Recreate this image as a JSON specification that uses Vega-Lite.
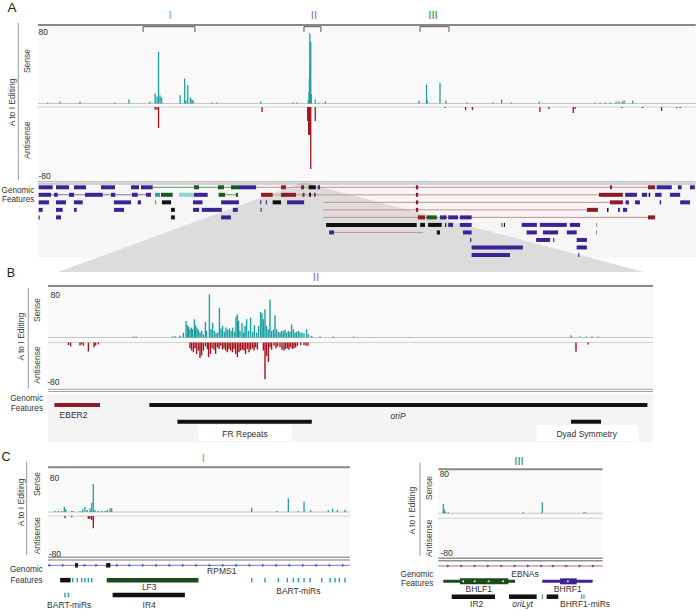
{
"$schema":"https://vega.github.io/schema/vega-lite/v6.json",
"width":696,"height":610,"autosize":{"type":"none"},"padding":0,"background":"#ffffff",
"config":{"view":{"stroke":null},"text":{"font":"Liberation Sans","fontSize":8.5,"color":"#333333"}},
"data":{"values":[{}]},
"datasets":{
"aS":[{"kb":2.56,"v":1.1},{"kb":5.8,"v":2.1},{"kb":11.08,"v":2.1},{"kb":20.3,"v":1.1},{"kb":24.0,"v":4.3},{"kb":29.5,"v":2.1},{"kb":30.9,"v":10.7},{"kb":31.4,"v":7.5},{"kb":31.8,"v":55.5},{"kb":32.2,"v":8.6},{"kb":32.6,"v":6.4},{"kb":37.5,"v":8.9},{"kb":38.7,"v":26.8},{"kb":39.0,"v":3.2},{"kb":39.5,"v":19.7},{"kb":40.2,"v":6.4},{"kb":40.6,"v":4.3},{"kb":40.9,"v":3.2},{"kb":45.9,"v":1.1},{"kb":47.2,"v":1.1},{"kb":58.75,"v":2.1},{"kb":67.2,"v":1.1},{"kb":68.3,"v":1.1},{"kb":71.3,"v":3.2},{"kb":71.5,"v":12},{"kb":71.6,"v":26.8},{"kb":71.7,"v":75.2},{"kb":71.8,"v":40},{"kb":71.95,"v":66.3},{"kb":72.1,"v":10},{"kb":73.15,"v":4.3},{"kb":74.05,"v":1.1},{"kb":75.8,"v":2.1},{"kb":100.5,"v":3.2},{"kb":102.5,"v":20.4},{"kb":102.7,"v":3.2},{"kb":106.05,"v":22.2},{"kb":107.6,"v":3.2},{"kb":113.2,"v":1.1},{"kb":119.95,"v":1.1},{"kb":122.3,"v":4.3},{"kb":124.8,"v":1.1},{"kb":132.2,"v":2.1},{"kb":146.9,"v":1.1},{"kb":148.3,"v":1.1},{"kb":149.6,"v":1.1},{"kb":150.9,"v":1.1},{"kb":152.5,"v":2.1},{"kb":153.3,"v":2.1},{"kb":154.1,"v":2.1},{"kb":154.6,"v":3.2},{"kb":156.9,"v":3.2}],
"aA":[{"kb":30.9,"v":-3},{"kb":31.4,"v":-3.3},{"kb":31.8,"v":-23.3},{"kb":59.1,"v":-5.6},{"kb":71.15,"v":-15.6},{"kb":71.4,"v":-30.8},{"kb":71.6,"v":-31.1},{"kb":71.75,"v":-31.1},{"kb":71.95,"v":-68.9},{"kb":73.15,"v":-15.6},{"kb":107.4,"v":-1.1},{"kb":112.8,"v":-3.3},{"kb":114.6,"v":-3.3},{"kb":132.4,"v":-5.6},{"kb":134.8,"v":-2.2},{"kb":141.2,"v":-6.7},{"kb":141.7,"v":-2.2},{"kb":154.0,"v":-1.1},{"kb":159.5,"v":-1.1},{"kb":164.5,"v":-4.4},{"kb":168.5,"v":-1.1},{"kb":169.4,"v":-1.1}],
"aReg":[{"id":"I","s":27.7,"e":41.42,"m":34.82},{"id":"II","s":70.17,"e":74.66,"m":72.81},{"id":"III","s":100.78,"e":108.43,"m":104.2}],
"aTrap":[{"r":0.43,"a":69.38,"b":70.7},{"r":12.26,"a":5.28,"b":159.87}],
"aLn":[{"r":1,"s":30.26,"e":57.96,"t":"gl"},{"r":1,"s":57.96,"e":160.9,"t":"rl"},{"r":2,"s":3.43,"e":29.8,"t":"pl"},{"r":2,"s":49.33,"e":52.76,"t":"gl"},{"r":2,"s":61.92,"e":148.0,"t":"rl"},{"r":3,"s":75.3,"e":150.9,"t":"rl"},{"r":4,"s":75.3,"e":144.8,"t":"rl"},{"r":5,"s":75.3,"e":160.9,"t":"rl"},{"r":7,"s":78.1,"e":101.6,"t":"rl"}],
"aF":[
{"r":1,"s":0.18,"e":3.88,"t":"p"},{"r":1,"s":4.75,"e":8.18,"t":"p"},{"r":1,"s":9.5,"e":12.66,"t":"p"},{"r":1,"s":16.62,"e":20.31,"t":"p"},{"r":1,"s":24.53,"e":26.65,"t":"p"},{"r":1,"s":27.17,"e":30.26,"t":"p"},{"r":1,"s":41.15,"e":42.47,"t":"g"},{"r":1,"s":47.49,"e":49.07,"t":"g"},{"r":1,"s":50.92,"e":53.03,"t":"g"},{"r":1,"s":53.03,"e":57.51,"t":"p"},{"r":1,"s":64.1,"e":65.4,"t":"r"},{"r":1,"s":69.4,"e":70.2,"t":"r"},{"r":1,"s":71.4,"e":73.3,"t":"k"},{"r":1,"s":73.8,"e":74.4,"t":"p"},{"r":1,"s":99.7,"e":100.3,"t":"r"},{"r":1,"s":150.9,"e":151.4,"t":"r"},{"r":1,"s":160.9,"e":162.8,"t":"r"},{"r":1,"s":163.2,"e":167.2,"t":"p"},{"r":1,"s":168.8,"e":169.8,"t":"p"},{"r":1,"s":172.0,"e":173.3,"t":"p"},
{"r":2,"s":0.18,"e":3.43,"t":"p"},{"r":2,"s":4.22,"e":5.2,"t":"p"},{"r":2,"s":8.18,"e":9.5,"t":"p"},{"r":2,"s":12.4,"e":17.07,"t":"p"},{"r":2,"s":19.26,"e":20.39,"t":"p"},{"r":2,"s":24.8,"e":26.3,"t":"p"},{"r":2,"s":28.5,"e":29.8,"t":"p"},{"r":2,"s":30.87,"e":32.19,"t":"c"},{"r":2,"s":32.45,"e":35.54,"t":"g"},{"r":2,"s":37.2,"e":41.15,"t":"l"},{"r":2,"s":41.15,"e":44.77,"t":"p"},{"r":2,"s":47.67,"e":49.33,"t":"g"},{"r":2,"s":52.2,"e":52.76,"t":"g"},{"r":2,"s":58.83,"e":61.92,"t":"r"},{"r":2,"s":64.1,"e":68.06,"t":"r"},{"r":2,"s":69.8,"e":70.3,"t":"r"},{"r":2,"s":71.5,"e":72.0,"t":"k"},{"r":2,"s":72.9,"e":73.2,"t":"k"},{"r":2,"s":99.7,"e":100.3,"t":"r"},{"r":2,"s":148.0,"e":154.3,"t":"r"},{"r":2,"s":154.9,"e":158.0,"t":"p"},{"r":2,"s":159.3,"e":160.7,"t":"p"},{"r":2,"s":161.1,"e":161.5,"t":"k"},{"r":2,"s":162.8,"e":164.5,"t":"p"},{"r":2,"s":166.7,"e":169.4,"t":"p"},
{"r":3,"s":0.18,"e":2.9,"t":"p"},{"r":3,"s":4.75,"e":7.39,"t":"p"},{"r":3,"s":9.5,"e":11.8,"t":"p"},{"r":3,"s":20.05,"e":24.53,"t":"p"},{"r":3,"s":26.3,"e":27.17,"t":"p"},{"r":3,"s":30.87,"e":31.15,"t":"c"},{"r":3,"s":32.7,"e":35.1,"t":"k"},{"r":3,"s":40.9,"e":43.4,"t":"p"},{"r":3,"s":48.3,"e":53.0,"t":"p"},{"r":3,"s":58.6,"e":58.9,"t":"p"},{"r":3,"s":60.1,"e":60.4,"t":"p"},{"r":3,"s":61.9,"e":64.1,"t":"k"},{"r":3,"s":65.7,"e":70.2,"t":"p"},{"r":3,"s":99.7,"e":100.3,"t":"r"},{"r":3,"s":150.9,"e":154.3,"t":"r"},{"r":3,"s":155.0,"e":155.9,"t":"p"},{"r":3,"s":157.5,"e":158.8,"t":"p"},{"r":3,"s":164.0,"e":164.4,"t":"p"},{"r":3,"s":169.4,"e":172.0,"t":"p"},
{"r":4,"s":0.18,"e":1.24,"t":"p"},{"r":4,"s":4.75,"e":6.5,"t":"p"},{"r":4,"s":9.5,"e":10.2,"t":"p"},{"r":4,"s":20.05,"e":22.7,"t":"p"},{"r":4,"s":35.1,"e":36.1,"t":"k"},{"r":4,"s":40.9,"e":42.5,"t":"p"},{"r":4,"s":43.2,"e":48.5,"t":"p"},{"r":4,"s":51.4,"e":52.7,"t":"p"},{"r":4,"s":58.7,"e":59.0,"t":"p"},{"r":4,"s":99.7,"e":100.3,"t":"r"},{"r":4,"s":144.8,"e":147.7,"t":"r"},{"r":4,"s":150.1,"e":150.5,"t":"k"},{"r":4,"s":153.0,"e":153.5,"t":"p"},{"r":4,"s":154.3,"e":155.4,"t":"p"},
{"r":5,"s":0.13,"e":0.45,"t":"p"},{"r":5,"s":4.75,"e":6.07,"t":"p"},{"r":5,"s":35.1,"e":36.1,"t":"k"},{"r":5,"s":48.3,"e":50.9,"t":"p"},{"r":5,"s":100.2,"e":102.1,"t":"r"},{"r":5,"s":102.5,"e":105.2,"t":"g"},{"r":5,"s":106.05,"e":107.8,"t":"p"},{"r":5,"s":108.2,"e":110.8,"t":"p"},{"r":5,"s":111.3,"e":114.4,"t":"p"},{"r":5,"s":160.9,"e":162.8,"t":"r"},
{"r":6,"s":76.0,"e":99.9,"t":"k"},{"r":6,"s":100.8,"e":102.1,"t":"k"},{"r":6,"s":102.9,"e":106.5,"t":"k"},{"r":6,"s":107.4,"e":107.7,"t":"k"},{"r":6,"s":108.2,"e":109.5,"t":"p"},{"r":6,"s":111.3,"e":114.4,"t":"p"},{"r":6,"s":122.3,"e":122.5,"t":"k"},{"r":6,"s":122.9,"e":123.2,"t":"k"},{"r":6,"s":127.6,"e":131.6,"t":"p"},{"r":6,"s":132.4,"e":139.5,"t":"p"},{"r":6,"s":140.3,"e":143.0,"t":"p"},{"r":6,"s":147.2,"e":147.5,"t":"y"},
{"r":7,"s":76.8,"e":78.1,"t":"p"},{"r":7,"s":105.2,"e":106.05,"t":"k"},{"r":7,"s":112.1,"e":114.4,"t":"p"},{"r":7,"s":128.9,"e":131.6,"t":"p"},{"r":7,"s":133.2,"e":137.2,"t":"p"},{"r":7,"s":139.5,"e":142.1,"t":"p"},{"r":7,"s":147.2,"e":147.5,"t":"y"},
{"r":8,"s":113.97,"e":114.3,"t":"p"},{"r":8,"s":131.4,"e":135.1,"t":"p"},{"r":8,"s":135.9,"e":136.2,"t":"p"},{"r":8,"s":142.1,"e":144.8,"t":"p"},
{"r":9,"s":114.4,"e":127.9,"t":"p"},{"r":9,"s":142.1,"e":144.8,"t":"p"},
{"r":10,"s":114.4,"e":124.5,"t":"p"},{"r":10,"s":142.5,"e":142.8,"t":"p"}],
"aTL":[{"t":"80","x":0,"y":76.9},{"t":"-80","x":0,"y":-77.6}],
"aTR":[{"t":"Genomic","x":-0.98,"y":-94.3},{"t":"Features","x":-0.98,"y":-104.1}],
"aTV":[{"t":"A to I Editing","x":-6.86,"y":1.07},{"t":"Sense","x":-2.9,"y":45.6},{"t":"Antisense","x":-2.9,"y":-39.2}],
"bS":[{"bp":425,"v":1.5},{"bp":440,"v":1.5},{"bp":623,"v":2},{"bp":635,"v":2},{"bp":660,"v":3},{"bp":677,"v":8},{"bp":690,"v":27.4},{"bp":697,"v":20.2},{"bp":703,"v":18},{"bp":710,"v":13.6},{"bp":717,"v":16.4},{"bp":723,"v":13.6},{"bp":732,"v":30},{"bp":738,"v":20.2},{"bp":745,"v":16.4},{"bp":752,"v":12.6},{"bp":760,"v":8.2},{"bp":768,"v":11},{"bp":777,"v":5.4},{"bp":787,"v":25.7},{"bp":793,"v":11},{"bp":807,"v":71},{"bp":815,"v":13.6},{"bp":823,"v":24.6},{"bp":832,"v":11},{"bp":840,"v":7},{"bp":848,"v":8.2},{"bp":857,"v":49},{"bp":865,"v":14.8},{"bp":873,"v":19.2},{"bp":882,"v":9.3},{"bp":890,"v":16.4},{"bp":898,"v":12.6},{"bp":907,"v":14.8},{"bp":915,"v":11},{"bp":923,"v":16.4},{"bp":932,"v":9.3},{"bp":940,"v":34.4},{"bp":947,"v":38.2},{"bp":953,"v":27.4},{"bp":960,"v":11},{"bp":970,"v":23.5},{"bp":978,"v":8.2},{"bp":985,"v":19.2},{"bp":993,"v":30},{"bp":1003,"v":11},{"bp":1013,"v":32.8},{"bp":1023,"v":9.3},{"bp":1032,"v":20.2},{"bp":1043,"v":8.2},{"bp":1053,"v":19.2},{"bp":1063,"v":42},{"bp":1070,"v":39.9},{"bp":1077,"v":30},{"bp":1085,"v":46.4},{"bp":1093,"v":19.2},{"bp":1102,"v":13.6},{"bp":1110,"v":62.8},{"bp":1118,"v":11},{"bp":1127,"v":12.6},{"bp":1135,"v":36.6},{"bp":1143,"v":13.6},{"bp":1152,"v":9.3},{"bp":1160,"v":8.2},{"bp":1168,"v":11},{"bp":1177,"v":11},{"bp":1185,"v":12.6},{"bp":1193,"v":8.2},{"bp":1202,"v":11},{"bp":1210,"v":9.3},{"bp":1218,"v":21.8},{"bp":1227,"v":13.6},{"bp":1235,"v":8.2},{"bp":1243,"v":9.3},{"bp":1252,"v":11},{"bp":1260,"v":8.2},{"bp":1270,"v":8.2},{"bp":1280,"v":7},{"bp":1293,"v":13.6},{"bp":1302,"v":5.4},{"bp":1318,"v":2.8},{"bp":1360,"v":1.5},{"bp":1427,"v":1.5},{"bp":1528,"v":1.5},{"bp":1625,"v":1},{"bp":1810,"v":1},{"bp":2615,"v":3.3},{"bp":2660,"v":1.5},{"bp":2690,"v":1.5},{"bp":2720,"v":1.5},{"bp":2750,"v":1.5}],
"bA":[{"bp":102,"v":-4.4},{"bp":113,"v":-6.6},{"bp":160,"v":-5},{"bp":168,"v":-3.3},{"bp":177,"v":-5.4},{"bp":202,"v":-15.3},{"bp":230,"v":-8.2},{"bp":238,"v":-5},{"bp":252,"v":-3.3},{"bp":710,"v":-9.8},{"bp":718,"v":-13.6},{"bp":727,"v":-16.4},{"bp":735,"v":-9.8},{"bp":743,"v":-19.2},{"bp":752,"v":-13.6},{"bp":760,"v":-26.2},{"bp":768,"v":-21.8},{"bp":777,"v":-13.6},{"bp":787,"v":-6.6},{"bp":797,"v":-11},{"bp":803,"v":-24.6},{"bp":812,"v":-19.2},{"bp":820,"v":-9.8},{"bp":830,"v":-12},{"bp":838,"v":-19.2},{"bp":847,"v":-8.2},{"bp":855,"v":-11},{"bp":863,"v":-5.4},{"bp":872,"v":-12},{"bp":880,"v":-9.8},{"bp":888,"v":-13.6},{"bp":897,"v":-16.4},{"bp":905,"v":-11},{"bp":913,"v":-13.6},{"bp":922,"v":-16.4},{"bp":930,"v":-11},{"bp":938,"v":-19.2},{"bp":947,"v":-24.6},{"bp":955,"v":-16.4},{"bp":963,"v":-13.6},{"bp":972,"v":-12},{"bp":980,"v":-13.6},{"bp":988,"v":-19.2},{"bp":997,"v":-11},{"bp":1005,"v":-16.4},{"bp":1013,"v":-12},{"bp":1022,"v":-9.8},{"bp":1030,"v":-13.6},{"bp":1038,"v":-8.2},{"bp":1047,"v":-12},{"bp":1077,"v":-13.6},{"bp":1085,"v":-61.8},{"bp":1093,"v":-23},{"bp":1102,"v":-32.8},{"bp":1110,"v":-8.2},{"bp":1118,"v":-12},{"bp":1130,"v":-5.4},{"bp":1140,"v":-9.8},{"bp":1148,"v":-6.6},{"bp":1160,"v":-8.2},{"bp":1170,"v":-12},{"bp":1180,"v":-13.6},{"bp":1188,"v":-11},{"bp":1197,"v":-9.8},{"bp":1205,"v":-12},{"bp":1213,"v":-8.2},{"bp":1222,"v":-11},{"bp":1230,"v":-9.8},{"bp":1238,"v":-8.2},{"bp":1247,"v":-5.4},{"bp":1263,"v":-4.4},{"bp":1280,"v":-4.4},{"bp":1290,"v":-5.4},{"bp":1300,"v":-5.4},{"bp":2640,"v":-15.4},{"bp":2700,"v":-3.3}],
"bF":[{"r":1,"s":32,"e":260,"t":"r"},{"r":1,"s":507,"e":2997,"t":"k"},{"r":2,"s":647,"e":1319,"t":"k"},{"r":2,"s":2615,"e":2765,"t":"k"}],
"bBox":[{"s":751.5,"e":1220},{"s":2443.5,"e":2951.5}],
"bFL":[{"t":"EBER2","x":127.5,"y":1.599},{"t":"FR Repeats","x":985,"y":2.737},{"t":"Dyad Symmetry","x":2693.5,"y":2.737}],
"bTL":[{"t":"80","x":10,"y":70.1},{"t":"-80","x":-6.7,"y":-72.9}],
"bTR":[{"t":"Genomic","x":-25,"y":-101.9},{"t":"Features","x":-25,"y":-118.3}],
"bTV":[{"t":"A to I Editing","x":-136.5,"y":1.3},{"t":"Sense","x":-56.5,"y":45.4},{"t":"Antisense","x":-56.5,"y":-45.4}],
"cS":[{"kb":30.45,"v":1.9},{"kb":30.565,"v":1.9},{"kb":30.685,"v":1.9},{"kb":30.778,"v":10.2},{"kb":30.827,"v":5.1},{"kb":31.04,"v":1.9},{"kb":31.097,"v":1.9},{"kb":31.334,"v":1.9},{"kb":31.43,"v":5.1},{"kb":31.511,"v":10.2},{"kb":31.593,"v":3.8},{"kb":31.688,"v":7},{"kb":31.749,"v":17.8},{"kb":31.805,"v":53.3},{"kb":31.865,"v":3.8},{"kb":31.982,"v":1.9},{"kb":32.103,"v":1.9},{"kb":32.22,"v":1.9},{"kb":32.301,"v":3.8},{"kb":32.397,"v":7},{"kb":32.457,"v":7},{"kb":37.418,"v":8.3},{"kb":38.304,"v":1.9},{"kb":38.715,"v":26},{"kb":39.07,"v":1.9},{"kb":39.272,"v":19.7},{"kb":39.509,"v":3.2},{"kb":40.133,"v":3.2},{"kb":40.289,"v":6.3},{"kb":40.452,"v":3.8},{"kb":40.724,"v":4.4}],
"cA":[{"kb":30.802,"v":-4.7},{"kb":31.04,"v":-2.7},{"kb":31.628,"v":-6},{"kb":31.688,"v":-6},{"kb":31.749,"v":-8},{"kb":31.805,"v":-24.7}],
"cLn":[{"r":1,"s":30.2,"e":40.9,"t":"bl"}],
"cF":[{"r":1,"s":31.16,"e":31.26,"t":"k"},{"r":1,"s":32.26,"e":32.41,"t":"k"},{"r":2,"s":30.63,"e":31.0,"t":"k"},{"r":2,"s":31.05,"e":31.1,"t":"c"},{"r":2,"s":31.213,"e":31.263,"t":"c"},{"r":2,"s":31.369,"e":31.419,"t":"c"},{"r":2,"s":31.486,"e":31.536,"t":"c"},{"r":2,"s":31.603,"e":31.653,"t":"c"},{"r":2,"s":31.724,"e":31.774,"t":"c"},{"r":2,"s":32.28,"e":35.53,"t":"g"},{"r":2,"s":37.393,"e":37.443,"t":"c"},{"r":2,"s":37.864,"e":37.914,"t":"c"},{"r":2,"s":38.336,"e":38.386,"t":"c"},{"r":2,"s":38.655,"e":38.705,"t":"c"},{"r":2,"s":38.868,"e":38.918,"t":"c"},{"r":2,"s":39.045,"e":39.095,"t":"c"},{"r":2,"s":39.247,"e":39.297,"t":"c"},{"r":2,"s":39.459,"e":39.509,"t":"c"},{"r":2,"s":39.874,"e":39.924,"t":"c"},{"r":2,"s":40.168,"e":40.218,"t":"c"},{"r":2,"s":40.345,"e":40.395,"t":"c"},{"r":2,"s":40.498,"e":40.548,"t":"c"},{"r":2,"s":40.699,"e":40.749,"t":"c"},{"r":3,"s":30.775,"e":30.825,"t":"c"},{"r":3,"s":30.895,"e":30.945,"t":"c"},{"r":3,"s":32.49,"e":35.05,"t":"k"}],
"cAr":[{"kb":30.271},{"kb":30.742},{"kb":31.511},{"kb":31.926},{"kb":32.656},{"kb":33.106},{"kb":33.577},{"kb":34.052},{"kb":34.523},{"kb":34.995},{"kb":35.469},{"kb":35.941},{"kb":36.412},{"kb":36.887},{"kb":37.358},{"kb":37.83},{"kb":38.304},{"kb":38.775},{"kb":39.247},{"kb":39.722},{"kb":40.193},{"kb":40.664}],
"cFL":[{"t":"RPMS1","x":36.355,"y":1.4},{"t":"LF3","x":33.786,"y":2.428},{"t":"BART-miRs","x":39.07,"y":2.717},{"t":"BART-miRs","x":30.951,"y":3.66},{"t":"IR4","x":33.786,"y":3.66}],
"cTL":[{"t":"80","x":30.246,"y":64.2},{"t":"-80","x":30.21,"y":-80.4}],
"cTR":[{"t":"Genomic","x":30.012,"y":-111.4},{"t":"Features","x":30.012,"y":-130.5}],
"cTV":[{"t":"A to I Editing","x":29.233,"y":18.5},{"t":"Sense","x":29.81,"y":53.3},{"t":"Antisense","x":29.81,"y":-45.1}],
"dS":[{"kb":102.499,"v":17.4},{"kb":102.535,"v":7.5},{"kb":102.585,"v":1.9},{"kb":102.678,"v":1.9},{"kb":105.364,"v":1.9},{"kb":106.045,"v":20},{"kb":107.538,"v":1.9},{"kb":107.599,"v":1.9}],
"dLn":[{"r":1,"s":102.32,"e":108.21,"t":"el"}],
"dG":[{"r":2,"s":102.499,"e":105.067,"t":"g","part":"utr"},{"r":2,"s":106.045,"e":107.85,"t":"p","part":"utr"},{"r":2,"s":103.097,"e":104.827,"t":"g","part":"cds"},{"r":2,"s":106.679,"e":107.277,"t":"p","part":"cds"}],
"dF":[{"r":3,"s":102.8,"e":104.351,"t":"k"},{"r":3,"s":104.852,"e":105.844,"t":"k"},{"r":3,"s":106.025,"e":106.065,"t":"c"},{"r":3,"s":106.203,"e":106.618,"t":"k"},{"r":3,"s":107.436,"e":107.476,"t":"c"},{"r":3,"s":107.518,"e":107.558,"t":"c"}],
"dAr":[{"kb":102.678},{"kb":103.158},{"kb":103.634},{"kb":104.111},{"kb":104.591},{"kb":105.067},{"kb":105.543},{"kb":106.023},{"kb":106.439},{"kb":106.919},{"kb":107.395},{"kb":107.872}],
"dWa":[{"kb":103.2,"strand":"-"},{"kb":103.61,"strand":"-"},{"kb":104.111,"strand":"-"},{"kb":104.627,"strand":"-"},{"kb":106.977,"strand":"+"}],
"dFL":[{"t":"EBNAs","x":105.426,"y":1.489},{"t":"BHLF1","x":103.771,"y":2.511},{"t":"BHRF1","x":106.96,"y":2.511},{"t":"IR2","x":103.696,"y":3.508},{"t":"BHRF1-miRs","x":107.576,"y":3.489}],
"dTL":[{"t":"80","x":102.35,"y":72.9},{"t":"-80","x":102.381,"y":-73.3}],
"dTR":[{"t":"Genomic","x":102.141,"y":-114.7},{"t":"Features","x":102.141,"y":-132.5}],
"dTV":[{"t":"A to I Editing","x":101.367,"y":4.9},{"t":"Sense","x":101.976,"y":47.3},{"t":"Antisense","x":101.976,"y":-46.7}]
},
"resolve":{"scale":{"x":"independent","y":"independent","color":"independent","strokeWidth":"independent","shape":"independent"}},
"layer":[
{"mark":{"type":"rect","fill":"#f9f9f9"},"encoding":{"x":{"datum":0,"type":"quantitative","scale":{"domain":[0,172],"range":[38,690],"nice":false,"zero":false},"axis":null},"x2":{"datum":173.5},"y":{"datum":82.1,"type":"quantitative","scale":{"domain":[0,80],"range":[103.5,29],"nice":false,"zero":false},"axis":null},"y2":{"datum":-82.1}}},
{"mark":{"type":"rect","fill":"#f6f6f6"},"encoding":{"x":{"datum":0,"type":"quantitative","scale":{"domain":[0,172],"range":[38,690],"nice":false,"zero":false},"axis":null},"x2":{"datum":173.5},"y":{"datum":0.694,"type":"quantitative","scale":{"domain":[1,10],"range":[187.3,255],"nice":false,"zero":false},"axis":null},"y2":{"datum":10.38}}},
{"data":{"name":"aTrap"},"mark":{"type":"area","orient":"horizontal","color":"#dcdcdc"},"encoding":{"y":{"field":"r","type":"quantitative","scale":{"domain":[1,10],"range":[187.3,255],"nice":false,"zero":false},"axis":null},"x":{"field":"a","type":"quantitative","scale":{"domain":[0,172],"range":[38,690],"nice":false,"zero":false},"axis":null},"x2":{"field":"b"}}},
{"mark":{"type":"rule","color":"#888888","strokeWidth":2},"encoding":{"x":{"datum":0,"type":"quantitative","scale":{"domain":[0,172],"range":[38,690],"nice":false,"zero":false},"axis":null},"x2":{"datum":173.5},"y":{"datum":84.3,"type":"quantitative","scale":{"domain":[0,80],"range":[103.5,29],"nice":false,"zero":false},"axis":null}}},
{"mark":{"type":"rule","color":"#c4c4c4","strokeWidth":1},"encoding":{"x":{"datum":0,"type":"quantitative","scale":{"domain":[0,172],"range":[38,690],"nice":false,"zero":false},"axis":null},"x2":{"datum":173.5},"y":{"datum":0,"type":"quantitative","scale":{"domain":[0,80],"range":[103.5,29],"nice":false,"zero":false},"axis":null}}},
{"mark":{"type":"rule","color":"#d2d2d2","strokeWidth":1},"encoding":{"x":{"datum":0,"type":"quantitative","scale":{"domain":[0,172],"range":[38,690],"nice":false,"zero":false},"axis":null},"x2":{"datum":173.5},"y":{"datum":-3.76,"type":"quantitative","scale":{"domain":[0,80],"range":[103.5,29],"nice":false,"zero":false},"axis":null}}},
{"mark":{"type":"rule","color":"#a0a0a0","strokeWidth":1},"encoding":{"x":{"datum":0,"type":"quantitative","scale":{"domain":[0,172],"range":[38,690],"nice":false,"zero":false},"axis":null},"x2":{"datum":173.5},"y":{"datum":-84.1,"type":"quantitative","scale":{"domain":[0,80],"range":[103.5,29],"nice":false,"zero":false},"axis":null}}},
{"mark":{"type":"rule","color":"#a0a0a0","strokeWidth":1},"encoding":{"x":{"datum":0,"type":"quantitative","scale":{"domain":[0,172],"range":[38,690],"nice":false,"zero":false},"axis":null},"x2":{"datum":173.5},"y":{"datum":-86.4,"type":"quantitative","scale":{"domain":[0,80],"range":[103.5,29],"nice":false,"zero":false},"axis":null}}},
{"mark":{"type":"rule","color":"#999999","strokeWidth":1},"encoding":{"x":{"datum":-5.2,"type":"quantitative","scale":{"domain":[0,172],"range":[38,690],"nice":false,"zero":false},"axis":null},"y":{"datum":86.4,"type":"quantitative","scale":{"domain":[0,80],"range":[103.5,29],"nice":false,"zero":false},"axis":null},"y2":{"datum":-82.1}}},
{"data":{"name":"aS"},"mark":{"type":"rule","color":"#1fa0a0","strokeWidth":1.3},"encoding":{"x":{"field":"kb","type":"quantitative","scale":{"domain":[0,172],"range":[38,690],"nice":false,"zero":false},"axis":null},"y":{"field":"v","type":"quantitative","scale":{"domain":[0,80],"range":[103.5,29],"nice":false,"zero":false},"axis":null},"y2":{"datum":0}}},
{"data":{"name":"aA"},"mark":{"type":"rule","color":"#a3141b","strokeWidth":1.3},"encoding":{"x":{"field":"kb","type":"quantitative","scale":{"domain":[0,172],"range":[38,690],"nice":false,"zero":false},"axis":null},"y":{"field":"v","type":"quantitative","scale":{"domain":[-80,0],"range":[179,107],"nice":false,"zero":false},"axis":null},"y2":{"datum":0}}},
{"data":{"name":"aReg"},"mark":{"type":"rule","color":"#555555","strokeWidth":1},"encoding":{"x":{"field":"s","type":"quantitative","scale":{"domain":[0,172],"range":[38,690],"nice":false,"zero":false},"axis":null},"x2":{"field":"e"},"y":{"datum":82.5,"type":"quantitative","scale":{"domain":[0,80],"range":[103.5,29],"nice":false,"zero":false},"axis":null}}},
{"data":{"name":"aReg"},"mark":{"type":"rule","color":"#555555","strokeWidth":1},"encoding":{"x":{"field":"s","type":"quantitative","scale":{"domain":[0,172],"range":[38,690],"nice":false,"zero":false},"axis":null},"y":{"datum":82.5,"type":"quantitative","scale":{"domain":[0,80],"range":[103.5,29],"nice":false,"zero":false},"axis":null},"y2":{"datum":76.8}}},
{"data":{"name":"aReg"},"mark":{"type":"rule","color":"#555555","strokeWidth":1},"encoding":{"x":{"field":"e","type":"quantitative","scale":{"domain":[0,172],"range":[38,690],"nice":false,"zero":false},"axis":null},"y":{"datum":82.5,"type":"quantitative","scale":{"domain":[0,80],"range":[103.5,29],"nice":false,"zero":false},"axis":null},"y2":{"datum":76.8}}},
{"data":{"name":"aReg"},"mark":{"type":"text","fontSize":11.5},"encoding":{"x":{"field":"m","type":"quantitative","scale":{"domain":[0,172],"range":[38,690],"nice":false,"zero":false},"axis":null},"y":{"datum":94,"type":"quantitative","scale":{"domain":[0,80],"range":[103.5,29],"nice":false,"zero":false},"axis":null},"text":{"field":"id"},"color":{"field":"id","type":"nominal","scale":{"domain":["I","II","III"],"range":["#6cbf6a","#7a78d6","#2f8f3a"]},"legend":null}}},
{"data":{"name":"aLn"},"mark":{"type":"rule","strokeWidth":1},"encoding":{"x":{"field":"s","type":"quantitative","scale":{"domain":[0,172],"range":[38,690],"nice":false,"zero":false},"axis":null},"x2":{"field":"e"},"y":{"field":"r","type":"quantitative","scale":{"domain":[1,10],"range":[187.3,255],"nice":false,"zero":false},"axis":null},"color":{"field":"t","type":"nominal","scale":{"domain":["p","g","r","k","c","l","y","gl","rl","pl","bl","el"],"range":["#3c2394","#1d5a20","#8e1c26","#111111","#27a2a2","#93d3d3","#999999","#5a9a5a","#cf8d8d","#7b6cb5","#6f7fb8","#d49a9a"]},"legend":null}}},
{"data":{"name":"aF"},"mark":{"type":"rule","strokeWidth":4},"encoding":{"x":{"field":"s","type":"quantitative","scale":{"domain":[0,172],"range":[38,690],"nice":false,"zero":false},"axis":null},"x2":{"field":"e"},"y":{"field":"r","type":"quantitative","scale":{"domain":[1,10],"range":[187.3,255],"nice":false,"zero":false},"axis":null},"color":{"field":"t","type":"nominal","scale":{"domain":["p","g","r","k","c","l","y","gl","rl","pl","bl","el"],"range":["#3c2394","#1d5a20","#8e1c26","#111111","#27a2a2","#93d3d3","#999999","#5a9a5a","#cf8d8d","#7b6cb5","#6f7fb8","#d49a9a"]},"legend":null}}},
{"mark":{"type":"text","text":"A","fontSize":13.5,"color":"#222222"},"encoding":{"x":{"datum":-6.86,"type":"quantitative","scale":{"domain":[0,172],"range":[38,690],"nice":false,"zero":false},"axis":null},"y":{"datum":102.3,"type":"quantitative","scale":{"domain":[0,80],"range":[103.5,29],"nice":false,"zero":false},"axis":null}}},
{"data":{"name":"aTL"},"mark":{"type":"text","align":"left","dx":0.5},"encoding":{"x":{"field":"x","type":"quantitative","scale":{"domain":[0,172],"range":[38,690],"nice":false,"zero":false},"axis":null},"y":{"field":"y","type":"quantitative","scale":{"domain":[0,80],"range":[103.5,29],"nice":false,"zero":false},"axis":null},"text":{"field":"t"}}},
{"data":{"name":"aTR"},"mark":{"type":"text","align":"right","fontSize":8.2},"encoding":{"x":{"field":"x","type":"quantitative","scale":{"domain":[0,172],"range":[38,690],"nice":false,"zero":false},"axis":null},"y":{"field":"y","type":"quantitative","scale":{"domain":[0,80],"range":[103.5,29],"nice":false,"zero":false},"axis":null},"text":{"field":"t"}}},
{"data":{"name":"aTV"},"mark":{"type":"text","angle":270,"fontSize":8.5,"color":"#444444"},"encoding":{"x":{"field":"x","type":"quantitative","scale":{"domain":[0,172],"range":[38,690],"nice":false,"zero":false},"axis":null},"y":{"field":"y","type":"quantitative","scale":{"domain":[0,80],"range":[103.5,29],"nice":false,"zero":false},"axis":null},"text":{"field":"t"}}},

{"mark":{"type":"rect","fill":"#f9f9f9"},"encoding":{"x":{"datum":0,"type":"quantitative","scale":{"domain":[0,3025],"range":[48,653],"nice":false,"zero":false},"axis":null},"x2":{"datum":3025},"y":{"datum":81.65,"type":"quantitative","scale":{"domain":[0,80],"range":[337.5,289],"nice":false,"zero":false},"axis":null},"y2":{"datum":-84.1}}},
{"mark":{"type":"rect","fill":"#f4f4f4"},"encoding":{"x":{"datum":0,"type":"quantitative","scale":{"domain":[0,3025],"range":[48,653],"nice":false,"zero":false},"axis":null},"x2":{"datum":3025},"y":{"datum":0.371,"type":"quantitative","scale":{"domain":[1,2],"range":[405,421.7],"nice":false,"zero":false},"axis":null},"y2":{"datum":3.216}}},
{"data":{"name":"bBox"},"mark":{"type":"rect","fill":"#ffffff"},"encoding":{"x":{"field":"s","type":"quantitative","scale":{"domain":[0,3025],"range":[48,653],"nice":false,"zero":false},"axis":null},"x2":{"field":"e"},"y":{"datum":2.198,"type":"quantitative","scale":{"domain":[1,2],"range":[405,421.7],"nice":false,"zero":false},"axis":null},"y2":{"datum":3.156}}},
{"mark":{"type":"rule","color":"#888888","strokeWidth":2},"encoding":{"x":{"datum":0,"type":"quantitative","scale":{"domain":[0,3025],"range":[48,653],"nice":false,"zero":false},"axis":null},"x2":{"datum":3025},"y":{"datum":84.95,"type":"quantitative","scale":{"domain":[0,80],"range":[337.5,289],"nice":false,"zero":false},"axis":null}}},
{"mark":{"type":"rule","color":"#c4c4c4","strokeWidth":1},"encoding":{"x":{"datum":0,"type":"quantitative","scale":{"domain":[0,3025],"range":[48,653],"nice":false,"zero":false},"axis":null},"x2":{"datum":3025},"y":{"datum":0,"type":"quantitative","scale":{"domain":[0,80],"range":[337.5,289],"nice":false,"zero":false},"axis":null}}},
{"mark":{"type":"rule","color":"#d2d2d2","strokeWidth":1},"encoding":{"x":{"datum":0,"type":"quantitative","scale":{"domain":[0,3025],"range":[48,653],"nice":false,"zero":false},"axis":null},"x2":{"datum":3025},"y":{"datum":-8.25,"type":"quantitative","scale":{"domain":[0,80],"range":[337.5,289],"nice":false,"zero":false},"axis":null}}},
{"mark":{"type":"rule","color":"#a0a0a0","strokeWidth":1},"encoding":{"x":{"datum":0,"type":"quantitative","scale":{"domain":[0,3025],"range":[48,653],"nice":false,"zero":false},"axis":null},"x2":{"datum":3025},"y":{"datum":-85.4,"type":"quantitative","scale":{"domain":[0,80],"range":[337.5,289],"nice":false,"zero":false},"axis":null}}},
{"mark":{"type":"rule","color":"#a0a0a0","strokeWidth":1},"encoding":{"x":{"datum":0,"type":"quantitative","scale":{"domain":[0,3025],"range":[48,653],"nice":false,"zero":false},"axis":null},"x2":{"datum":3025},"y":{"datum":-89.07,"type":"quantitative","scale":{"domain":[0,80],"range":[337.5,289],"nice":false,"zero":false},"axis":null}}},
{"mark":{"type":"rule","color":"#999999","strokeWidth":1},"encoding":{"x":{"datum":-98.5,"type":"quantitative","scale":{"domain":[0,3025],"range":[48,653],"nice":false,"zero":false},"axis":null},"y":{"datum":81.65,"type":"quantitative","scale":{"domain":[0,80],"range":[337.5,289],"nice":false,"zero":false},"axis":null},"y2":{"datum":-84.1}}},
{"data":{"name":"bS"},"mark":{"type":"rule","color":"#1fa0a0","strokeWidth":1.4},"encoding":{"x":{"field":"bp","type":"quantitative","scale":{"domain":[0,3025],"range":[48,653],"nice":false,"zero":false},"axis":null},"y":{"field":"v","type":"quantitative","scale":{"domain":[0,80],"range":[337.5,289],"nice":false,"zero":false},"axis":null},"y2":{"datum":0}}},
{"data":{"name":"bA"},"mark":{"type":"rule","color":"#a3141b","strokeWidth":1.4},"encoding":{"x":{"field":"bp","type":"quantitative","scale":{"domain":[0,3025],"range":[48,653],"nice":false,"zero":false},"axis":null},"y":{"field":"v","type":"quantitative","scale":{"domain":[-80,0],"range":[390,342.5],"nice":false,"zero":false},"axis":null},"y2":{"datum":0}}},
{"data":{"name":"bF"},"mark":{"type":"rule","strokeWidth":4},"encoding":{"x":{"field":"s","type":"quantitative","scale":{"domain":[0,3025],"range":[48,653],"nice":false,"zero":false},"axis":null},"x2":{"field":"e"},"y":{"field":"r","type":"quantitative","scale":{"domain":[1,2],"range":[405,421.7],"nice":false,"zero":false},"axis":null},"color":{"field":"t","type":"nominal","scale":{"domain":["p","g","r","k","c","l","y","gl","rl","pl","bl","el"],"range":["#3c2394","#1d5a20","#8e1c26","#111111","#27a2a2","#93d3d3","#999999","#5a9a5a","#cf8d8d","#7b6cb5","#6f7fb8","#d49a9a"]},"legend":null}}},
{"data":{"name":"bFL"},"mark":{"type":"text"},"encoding":{"x":{"field":"x","type":"quantitative","scale":{"domain":[0,3025],"range":[48,653],"nice":false,"zero":false},"axis":null},"y":{"field":"y","type":"quantitative","scale":{"domain":[1,2],"range":[405,421.7],"nice":false,"zero":false},"axis":null},"text":{"field":"t"}}},
{"mark":{"type":"text","text":"oriP","fontStyle":"italic"},"encoding":{"x":{"datum":1750,"type":"quantitative","scale":{"domain":[0,3025],"range":[48,653],"nice":false,"zero":false},"axis":null},"y":{"datum":1.63,"type":"quantitative","scale":{"domain":[1,2],"range":[405,421.7],"nice":false,"zero":false},"axis":null}}},
{"mark":{"type":"text","text":"B","fontSize":12.5,"color":"#222222"},"encoding":{"x":{"datum":-185,"type":"quantitative","scale":{"domain":[0,3025],"range":[48,653],"nice":false,"zero":false},"axis":null},"y":{"datum":106.4,"type":"quantitative","scale":{"domain":[0,80],"range":[337.5,289],"nice":false,"zero":false},"axis":null}}},
{"mark":{"type":"text","text":"II","fontSize":11.5,"color":"#7a78d6"},"encoding":{"x":{"datum":1340,"type":"quantitative","scale":{"domain":[0,3025],"range":[48,653],"nice":false,"zero":false},"axis":null},"y":{"datum":98.1,"type":"quantitative","scale":{"domain":[0,80],"range":[337.5,289],"nice":false,"zero":false},"axis":null}}},
{"data":{"name":"bTL"},"mark":{"type":"text","align":"left","dx":0.5},"encoding":{"x":{"field":"x","type":"quantitative","scale":{"domain":[0,3025],"range":[48,653],"nice":false,"zero":false},"axis":null},"y":{"field":"y","type":"quantitative","scale":{"domain":[0,80],"range":[337.5,289],"nice":false,"zero":false},"axis":null},"text":{"field":"t"}}},
{"data":{"name":"bTR"},"mark":{"type":"text","align":"right","fontSize":8.2},"encoding":{"x":{"field":"x","type":"quantitative","scale":{"domain":[0,3025],"range":[48,653],"nice":false,"zero":false},"axis":null},"y":{"field":"y","type":"quantitative","scale":{"domain":[0,80],"range":[337.5,289],"nice":false,"zero":false},"axis":null},"text":{"field":"t"}}},
{"data":{"name":"bTV"},"mark":{"type":"text","angle":270,"fontSize":8.5,"color":"#444444"},"encoding":{"x":{"field":"x","type":"quantitative","scale":{"domain":[0,3025],"range":[48,653],"nice":false,"zero":false},"axis":null},"y":{"field":"y","type":"quantitative","scale":{"domain":[0,80],"range":[337.5,289],"nice":false,"zero":false},"axis":null},"text":{"field":"t"}}},

{"mark":{"type":"rect","fill":"#f9f9f9"},"encoding":{"x":{"datum":30.2,"type":"quantitative","scale":{"domain":[30.2,40.9],"range":[48,350],"nice":false,"zero":false},"axis":null},"x2":{"datum":40.9},"y":{"datum":81.9,"type":"quantitative","scale":{"domain":[0,80],"range":[512,470],"nice":false,"zero":false},"axis":null},"y2":{"datum":-84.8}}},
{"mark":{"type":"rule","color":"#888888","strokeWidth":2},"encoding":{"x":{"datum":30.2,"type":"quantitative","scale":{"domain":[30.2,40.9],"range":[48,350],"nice":false,"zero":false},"axis":null},"x2":{"datum":40.9},"y":{"datum":85.1,"type":"quantitative","scale":{"domain":[0,80],"range":[512,470],"nice":false,"zero":false},"axis":null}}},
{"mark":{"type":"rule","color":"#c4c4c4","strokeWidth":1},"encoding":{"x":{"datum":30.2,"type":"quantitative","scale":{"domain":[30.2,40.9],"range":[48,350],"nice":false,"zero":false},"axis":null},"x2":{"datum":40.9},"y":{"datum":0,"type":"quantitative","scale":{"domain":[0,80],"range":[512,470],"nice":false,"zero":false},"axis":null}}},
{"mark":{"type":"rule","color":"#d2d2d2","strokeWidth":1},"encoding":{"x":{"datum":30.2,"type":"quantitative","scale":{"domain":[30.2,40.9],"range":[48,350],"nice":false,"zero":false},"axis":null},"x2":{"datum":40.9},"y":{"datum":-7.62,"type":"quantitative","scale":{"domain":[0,80],"range":[512,470],"nice":false,"zero":false},"axis":null}}},
{"mark":{"type":"rule","color":"#a0a0a0","strokeWidth":1.5},"encoding":{"x":{"datum":30.2,"type":"quantitative","scale":{"domain":[30.2,40.9],"range":[48,350],"nice":false,"zero":false},"axis":null},"x2":{"datum":40.9},"y":{"datum":-86.3,"type":"quantitative","scale":{"domain":[0,80],"range":[512,470],"nice":false,"zero":false},"axis":null}}},
{"mark":{"type":"rule","color":"#a0a0a0","strokeWidth":1.5},"encoding":{"x":{"datum":30.2,"type":"quantitative","scale":{"domain":[30.2,40.9],"range":[48,350],"nice":false,"zero":false},"axis":null},"x2":{"datum":40.9},"y":{"datum":-91.4,"type":"quantitative","scale":{"domain":[0,80],"range":[512,470],"nice":false,"zero":false},"axis":null}}},
{"mark":{"type":"rule","color":"#999999","strokeWidth":1},"encoding":{"x":{"datum":29.445,"type":"quantitative","scale":{"domain":[30.2,40.9],"range":[48,350],"nice":false,"zero":false},"axis":null},"y":{"datum":95.8,"type":"quantitative","scale":{"domain":[0,80],"range":[512,470],"nice":false,"zero":false},"axis":null},"y2":{"datum":-81.9}}},
{"data":{"name":"cS"},"mark":{"type":"rule","color":"#1fa0a0","strokeWidth":1.3},"encoding":{"x":{"field":"kb","type":"quantitative","scale":{"domain":[30.2,40.9],"range":[48,350],"nice":false,"zero":false},"axis":null},"y":{"field":"v","type":"quantitative","scale":{"domain":[0,80],"range":[512,470],"nice":false,"zero":false},"axis":null},"y2":{"datum":0}}},
{"data":{"name":"cA"},"mark":{"type":"rule","color":"#a3141b","strokeWidth":1.3},"encoding":{"x":{"field":"kb","type":"quantitative","scale":{"domain":[30.2,40.9],"range":[48,350],"nice":false,"zero":false},"axis":null},"y":{"field":"v","type":"quantitative","scale":{"domain":[-80,0],"range":[556,516],"nice":false,"zero":false},"axis":null},"y2":{"datum":0}}},
{"data":{"name":"cLn"},"mark":{"type":"rule","strokeWidth":1},"encoding":{"x":{"field":"s","type":"quantitative","scale":{"domain":[30.2,40.9],"range":[48,350],"nice":false,"zero":false},"axis":null},"x2":{"field":"e"},"y":{"field":"r","type":"quantitative","scale":{"domain":[1,3],"range":[565.3,595],"nice":false,"zero":false},"axis":null},"color":{"field":"t","type":"nominal","scale":{"domain":["p","g","r","k","c","l","y","gl","rl","pl","bl","el"],"range":["#3c2394","#1d5a20","#8e1c26","#111111","#27a2a2","#93d3d3","#999999","#5a9a5a","#cf8d8d","#7b6cb5","#6f7fb8","#d49a9a"]},"legend":null}}},
{"data":{"name":"cAr"},"mark":{"type":"point","shape":"triangle-right","filled":true,"size":10,"color":"#3f5ccf","opacity":1},"encoding":{"x":{"field":"kb","type":"quantitative","scale":{"domain":[30.2,40.9],"range":[48,350],"nice":false,"zero":false},"axis":null},"y":{"datum":1,"type":"quantitative","scale":{"domain":[1,3],"range":[565.3,595],"nice":false,"zero":false},"axis":null}}},
{"data":{"name":"cF"},"mark":{"type":"rule","strokeWidth":4.5},"encoding":{"x":{"field":"s","type":"quantitative","scale":{"domain":[30.2,40.9],"range":[48,350],"nice":false,"zero":false},"axis":null},"x2":{"field":"e"},"y":{"field":"r","type":"quantitative","scale":{"domain":[1,3],"range":[565.3,595],"nice":false,"zero":false},"axis":null},"color":{"field":"t","type":"nominal","scale":{"domain":["p","g","r","k","c","l","y","gl","rl","pl","bl","el"],"range":["#3c2394","#1d4a1d","#8e1c26","#111111","#27a2a2","#93d3d3","#999999","#5a9a5a","#cf8d8d","#7b6cb5","#6f7fb8","#d49a9a"]},"legend":null}}},
{"data":{"name":"cFL"},"mark":{"type":"text"},"encoding":{"x":{"field":"x","type":"quantitative","scale":{"domain":[30.2,40.9],"range":[48,350],"nice":false,"zero":false},"axis":null},"y":{"field":"y","type":"quantitative","scale":{"domain":[1,3],"range":[565.3,595],"nice":false,"zero":false},"axis":null},"text":{"field":"t"}}},
{"mark":{"type":"text","text":"C","fontSize":12.5,"color":"#222222"},"encoding":{"x":{"datum":28.712,"type":"quantitative","scale":{"domain":[30.2,40.9],"range":[48,350],"nice":false,"zero":false},"axis":null},"y":{"datum":104.8,"type":"quantitative","scale":{"domain":[0,80],"range":[512,470],"nice":false,"zero":false},"axis":null}}},
{"mark":{"type":"text","text":"I","fontSize":11.5,"color":"#6cbf6a"},"encoding":{"x":{"datum":35.7,"type":"quantitative","scale":{"domain":[30.2,40.9],"range":[48,350],"nice":false,"zero":false},"axis":null},"y":{"datum":101,"type":"quantitative","scale":{"domain":[0,80],"range":[512,470],"nice":false,"zero":false},"axis":null}}},
{"data":{"name":"cTL"},"mark":{"type":"text","align":"left","dx":0.5},"encoding":{"x":{"field":"x","type":"quantitative","scale":{"domain":[30.2,40.9],"range":[48,350],"nice":false,"zero":false},"axis":null},"y":{"field":"y","type":"quantitative","scale":{"domain":[0,80],"range":[512,470],"nice":false,"zero":false},"axis":null},"text":{"field":"t"}}},
{"data":{"name":"cTR"},"mark":{"type":"text","align":"right","fontSize":8.2},"encoding":{"x":{"field":"x","type":"quantitative","scale":{"domain":[30.2,40.9],"range":[48,350],"nice":false,"zero":false},"axis":null},"y":{"field":"y","type":"quantitative","scale":{"domain":[0,80],"range":[512,470],"nice":false,"zero":false},"axis":null},"text":{"field":"t"}}},
{"data":{"name":"cTV"},"mark":{"type":"text","angle":270,"fontSize":8.5,"color":"#444444"},"encoding":{"x":{"field":"x","type":"quantitative","scale":{"domain":[30.2,40.9],"range":[48,350],"nice":false,"zero":false},"axis":null},"y":{"field":"y","type":"quantitative","scale":{"domain":[0,80],"range":[512,470],"nice":false,"zero":false},"axis":null},"text":{"field":"t"}}},

{"mark":{"type":"rect","fill":"#f9f9f9"},"encoding":{"x":{"datum":102.32,"type":"quantitative","scale":{"domain":[102.32,108.21],"range":[438.3,602.7],"nice":false,"zero":false},"axis":null},"x2":{"datum":108.21},"y":{"datum":80,"type":"quantitative","scale":{"domain":[0,80],"range":[513.3,470.5],"nice":false,"zero":false},"axis":null},"y2":{"datum":-82.6}}},
{"mark":{"type":"rule","color":"#888888","strokeWidth":2},"encoding":{"x":{"datum":102.32,"type":"quantitative","scale":{"domain":[102.32,108.21],"range":[438.3,602.7],"nice":false,"zero":false},"axis":null},"x2":{"datum":108.21},"y":{"datum":82.2,"type":"quantitative","scale":{"domain":[0,80],"range":[513.3,470.5],"nice":false,"zero":false},"axis":null}}},
{"mark":{"type":"rule","color":"#c4c4c4","strokeWidth":1},"encoding":{"x":{"datum":102.32,"type":"quantitative","scale":{"domain":[102.32,108.21],"range":[438.3,602.7],"nice":false,"zero":false},"axis":null},"x2":{"datum":108.21},"y":{"datum":0,"type":"quantitative","scale":{"domain":[0,80],"range":[513.3,470.5],"nice":false,"zero":false},"axis":null}}},
{"mark":{"type":"rule","color":"#d2d2d2","strokeWidth":1},"encoding":{"x":{"datum":102.32,"type":"quantitative","scale":{"domain":[102.32,108.21],"range":[438.3,602.7],"nice":false,"zero":false},"axis":null},"x2":{"datum":108.21},"y":{"datum":-9.35,"type":"quantitative","scale":{"domain":[0,80],"range":[513.3,470.5],"nice":false,"zero":false},"axis":null}}},
{"mark":{"type":"rule","color":"#909090","strokeWidth":1.5},"encoding":{"x":{"datum":102.32,"type":"quantitative","scale":{"domain":[102.32,108.21],"range":[438.3,602.7],"nice":false,"zero":false},"axis":null},"x2":{"datum":108.21},"y":{"datum":-84.1,"type":"quantitative","scale":{"domain":[0,80],"range":[513.3,470.5],"nice":false,"zero":false},"axis":null}}},
{"mark":{"type":"rule","color":"#909090","strokeWidth":1.5},"encoding":{"x":{"datum":102.32,"type":"quantitative","scale":{"domain":[102.32,108.21],"range":[438.3,602.7],"nice":false,"zero":false},"axis":null},"x2":{"datum":108.21},"y":{"datum":-88.6,"type":"quantitative","scale":{"domain":[0,80],"range":[513.3,470.5],"nice":false,"zero":false},"axis":null}}},
{"mark":{"type":"rule","color":"#999999","strokeWidth":1},"encoding":{"x":{"datum":101.664,"type":"quantitative","scale":{"domain":[102.32,108.21],"range":[438.3,602.7],"nice":false,"zero":false},"axis":null},"y":{"datum":94.6,"type":"quantitative","scale":{"domain":[0,80],"range":[513.3,470.5],"nice":false,"zero":false},"axis":null},"y2":{"datum":-79.8}}},
{"data":{"name":"dS"},"mark":{"type":"rule","color":"#1fa0a0","strokeWidth":1.3},"encoding":{"x":{"field":"kb","type":"quantitative","scale":{"domain":[102.32,108.21],"range":[438.3,602.7],"nice":false,"zero":false},"axis":null},"y":{"field":"v","type":"quantitative","scale":{"domain":[0,80],"range":[513.3,470.5],"nice":false,"zero":false},"axis":null},"y2":{"datum":0}}},
{"data":{"name":"dLn"},"mark":{"type":"rule","strokeWidth":1.5},"encoding":{"x":{"field":"s","type":"quantitative","scale":{"domain":[102.32,108.21],"range":[438.3,602.7],"nice":false,"zero":false},"axis":null},"x2":{"field":"e"},"y":{"field":"r","type":"quantitative","scale":{"domain":[1,3],"range":[566,596.7],"nice":false,"zero":false},"axis":null},"color":{"field":"t","type":"nominal","scale":{"domain":["p","g","r","k","c","l","y","gl","rl","pl","bl","el"],"range":["#3c2394","#1d5a20","#8e1c26","#111111","#27a2a2","#93d3d3","#999999","#5a9a5a","#cf8d8d","#7b6cb5","#6f7fb8","#d49a9a"]},"legend":null}}},
{"data":{"name":"dAr"},"mark":{"type":"point","shape":"triangle-right","filled":true,"size":10,"color":"#5a3fc8","opacity":1},"encoding":{"x":{"field":"kb","type":"quantitative","scale":{"domain":[102.32,108.21],"range":[438.3,602.7],"nice":false,"zero":false},"axis":null},"y":{"datum":1,"type":"quantitative","scale":{"domain":[1,3],"range":[566,596.7],"nice":false,"zero":false},"axis":null}}},
{"data":{"name":"dG"},"mark":{"type":"rule"},"encoding":{"x":{"field":"s","type":"quantitative","scale":{"domain":[102.32,108.21],"range":[438.3,602.7],"nice":false,"zero":false},"axis":null},"x2":{"field":"e"},"y":{"field":"r","type":"quantitative","scale":{"domain":[1,3],"range":[566,596.7],"nice":false,"zero":false},"axis":null},"color":{"field":"t","type":"nominal","scale":{"domain":["g","p"],"range":["#1d4a1d","#3c2394"]},"legend":null},"strokeWidth":{"field":"part","type":"ordinal","scale":{"domain":["utr","cds"],"range":[3,6]},"legend":null}}},
{"data":{"name":"dWa"},"mark":{"type":"point","filled":true,"size":6,"color":"#ffffff","opacity":1},"encoding":{"x":{"field":"kb","type":"quantitative","scale":{"domain":[102.32,108.21],"range":[438.3,602.7],"nice":false,"zero":false},"axis":null},"y":{"datum":2,"type":"quantitative","scale":{"domain":[1,3],"range":[566,596.7],"nice":false,"zero":false},"axis":null},"shape":{"field":"strand","type":"nominal","scale":{"domain":["-","+"],"range":["triangle-left","triangle-right"]},"legend":null}}},
{"data":{"name":"dF"},"mark":{"type":"rule","strokeWidth":4.5},"encoding":{"x":{"field":"s","type":"quantitative","scale":{"domain":[102.32,108.21],"range":[438.3,602.7],"nice":false,"zero":false},"axis":null},"x2":{"field":"e"},"y":{"field":"r","type":"quantitative","scale":{"domain":[1,3],"range":[566,596.7],"nice":false,"zero":false},"axis":null},"color":{"field":"t","type":"nominal","scale":{"domain":["p","g","r","k","c","l","y","gl","rl","pl","bl","el"],"range":["#3c2394","#1d5a20","#8e1c26","#111111","#27a2a2","#93d3d3","#999999","#5a9a5a","#cf8d8d","#7b6cb5","#6f7fb8","#d49a9a"]},"legend":null}}},
{"data":{"name":"dFL"},"mark":{"type":"text"},"encoding":{"x":{"field":"x","type":"quantitative","scale":{"domain":[102.32,108.21],"range":[438.3,602.7],"nice":false,"zero":false},"axis":null},"y":{"field":"y","type":"quantitative","scale":{"domain":[1,3],"range":[566,596.7],"nice":false,"zero":false},"axis":null},"text":{"field":"t"}}},
{"mark":{"type":"text","text":"oriLyt","fontStyle":"italic"},"encoding":{"x":{"datum":105.337,"type":"quantitative","scale":{"domain":[102.32,108.21],"range":[438.3,602.7],"nice":false,"zero":false},"axis":null},"y":{"datum":3.462,"type":"quantitative","scale":{"domain":[1,3],"range":[566,596.7],"nice":false,"zero":false},"axis":null}}},
{"mark":{"type":"text","text":"III","fontSize":11.5,"color":"#2f8f3a"},"encoding":{"x":{"datum":105.211,"type":"quantitative","scale":{"domain":[102.32,108.21],"range":[438.3,602.7],"nice":false,"zero":false},"axis":null},"y":{"datum":95.9,"type":"quantitative","scale":{"domain":[0,80],"range":[513.3,470.5],"nice":false,"zero":false},"axis":null}}},
{"data":{"name":"dTL"},"mark":{"type":"text","align":"left","dx":0.5},"encoding":{"x":{"field":"x","type":"quantitative","scale":{"domain":[102.32,108.21],"range":[438.3,602.7],"nice":false,"zero":false},"axis":null},"y":{"field":"y","type":"quantitative","scale":{"domain":[0,80],"range":[513.3,470.5],"nice":false,"zero":false},"axis":null},"text":{"field":"t"}}},
{"data":{"name":"dTR"},"mark":{"type":"text","align":"right","fontSize":8.2},"encoding":{"x":{"field":"x","type":"quantitative","scale":{"domain":[102.32,108.21],"range":[438.3,602.7],"nice":false,"zero":false},"axis":null},"y":{"field":"y","type":"quantitative","scale":{"domain":[0,80],"range":[513.3,470.5],"nice":false,"zero":false},"axis":null},"text":{"field":"t"}}},
{"data":{"name":"dTV"},"mark":{"type":"text","angle":270,"fontSize":8.5,"color":"#444444"},"encoding":{"x":{"field":"x","type":"quantitative","scale":{"domain":[102.32,108.21],"range":[438.3,602.7],"nice":false,"zero":false},"axis":null},"y":{"field":"y","type":"quantitative","scale":{"domain":[0,80],"range":[513.3,470.5],"nice":false,"zero":false},"axis":null},"text":{"field":"t"}}}
]
}
